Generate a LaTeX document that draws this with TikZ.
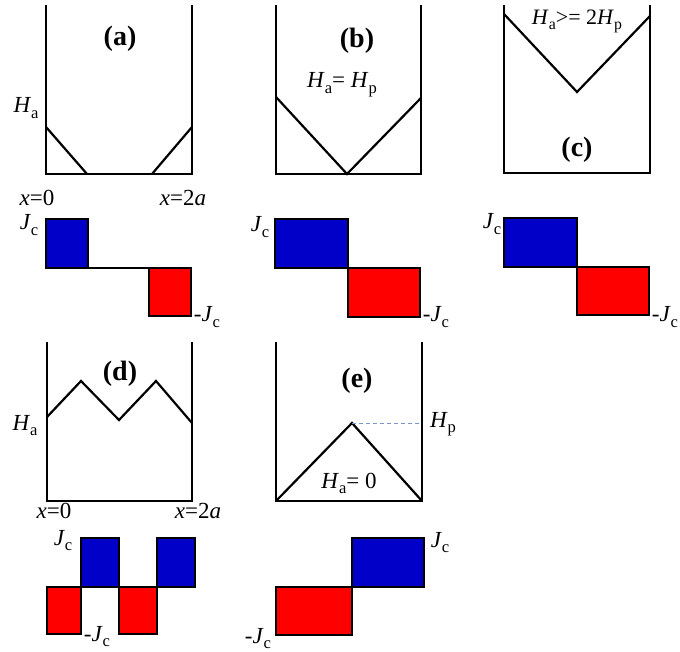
\documentclass[tikz,border=0pt]{standalone}
\usepackage{fontspec}
\setmainfont{Liberation Serif}
\definecolor{jblue}{RGB}{0,0,200}
\definecolor{jred}{RGB}{255,0,0}
\definecolor{dashblue}{RGB}{120,150,205}
\newcommand{\mysub}[1]{\raisebox{-0.22em}{\scalebox{0.72}{#1}}}
\newcommand{\Hsub}[1]{\textit{H}\mysub{#1}}
\newcommand{\Jc}{\textit{J}\mysub{c}}
\begin{document}
\begin{tikzpicture}[x=1pt,y=-1pt,
  wall/.style={line width=2.2pt, line join=miter},
  prof/.style={line width=2.2pt, line join=miter},
  jbox/.style={line width=2.2pt, draw=black},
  jpos/.style={jbox, fill=jblue},
  jneg/.style={jbox, fill=jred},
  lbl/.style={font=\fontsize{23}{26}\selectfont, inner sep=0pt, anchor=base},
  ttl/.style={font=\fontsize{28}{32}\selectfont\bfseries, inner sep=0pt, anchor=base}]
\useasboundingbox (0,0) rectangle (680,652);

% ---------- panel (a) ----------
\draw[wall] (46,5) -- (46,174) -- (192,174) -- (192,5);
\draw[prof] (46,127) -- (87,174);
\draw[prof] (152,174) -- (192,127);
\node[ttl] (ta) at (120,46) {(a)};
\node[lbl] (ha) at (26,113) {\Hsub{a}};
\node[lbl] (xa0) at (37,206) {\textit{x}=0};
\node[lbl] (xa2) at (183,206) {\textit{x}=2\textit{a}};
% currents (a)
\draw[jpos] (46,219) rectangle (88,268);
\draw[jneg] (149,268) rectangle (191,316);
\draw[line width=1.6pt] (88,268) -- (149,268);
\node[lbl] (jca) at (29,230) {\Jc};
\node[lbl] (mjca) at (207,322) {-\Jc};

% ---------- panel (b) ----------
\draw[wall] (276,5) -- (276,174) -- (421,174) -- (421,5);
\draw[prof] (276,97) -- (347,174) -- (421,98);
\node[ttl] (tb) at (357,48) {(b)};
\node[lbl] (hb) at (342,88) {\Hsub{a}= \Hsub{p}};
% currents (b)
\draw[jpos] (275,219) rectangle (348,268);
\draw[jneg] (348,268) rectangle (420,317);
\node[lbl] (jcb) at (260,232) {\Jc};
\node[lbl] (mjcb) at (436,322) {-\Jc};

% ---------- panel (c) ----------
\draw[wall] (504,5) -- (504,173) -- (650,173) -- (650,5);
\draw[prof] (504,14) -- (577,92) -- (650,16);
\node[lbl, font=\fontsize{22}{25}\selectfont] (hc) at (577,25) {\Hsub{a}>= 2\Hsub{p}};
\node[ttl] (tc) at (577,157) {(c)};
% currents (c)
\draw[jpos] (504,218) rectangle (577,267);
\draw[jneg] (577,267) rectangle (649,315);
\node[lbl] (jcc) at (492,229) {\Jc};
\node[lbl] (mjcc) at (665,322) {-\Jc};

% ---------- panel (d) ----------
\draw[wall] (47,342) -- (47,501) -- (192,501) -- (192,342);
\draw[prof] (47,417) -- (81,381) -- (119,420) -- (156,381) -- (192,423);
\node[ttl] (td) at (120,380) {(d)};
\node[lbl] (hd) at (25,430) {\Hsub{a}};
\node[lbl] (xd0) at (54,518) {\textit{x}=0};
\node[lbl] (xd2) at (198,518) {\textit{x}=2\textit{a}};
% currents (d)
\draw[jneg] (47,587) rectangle (81,634);
\draw[jpos] (81,538) rectangle (119,587);
\draw[jneg] (119,587) rectangle (157,634);
\draw[jpos] (157,538) rectangle (195,587);
\node[lbl] (jcd) at (63,545) {\Jc};
\node[lbl] (mjcd) at (97,641) {-\Jc};

% ---------- panel (e) ----------
\draw[wall] (276,342) -- (276,501) -- (422,501) -- (422,342);
\draw[line width=2.8pt] (422,407) -- (422,501);
\draw[prof] (276,501) -- (352,423) -- (422,501);
\draw[dashblue, line width=0.9pt, dash pattern=on 4pt off 3pt] (352,423) -- (422,423);
\node[ttl] (te) at (357,387) {(e)};
\node[lbl] (hpe) at (443,427) {\Hsub{p}};
\node[lbl] (hae) at (349,488) {\Hsub{a}= 0};
% currents (e)
\draw[jneg] (276,587) rectangle (352,635);
\draw[jpos] (352,538) rectangle (424,587);
\node[lbl] (jce) at (440,547) {\Jc};
\node[lbl] (mjce) at (258,643) {-\Jc};
\end{tikzpicture}
\end{document}
